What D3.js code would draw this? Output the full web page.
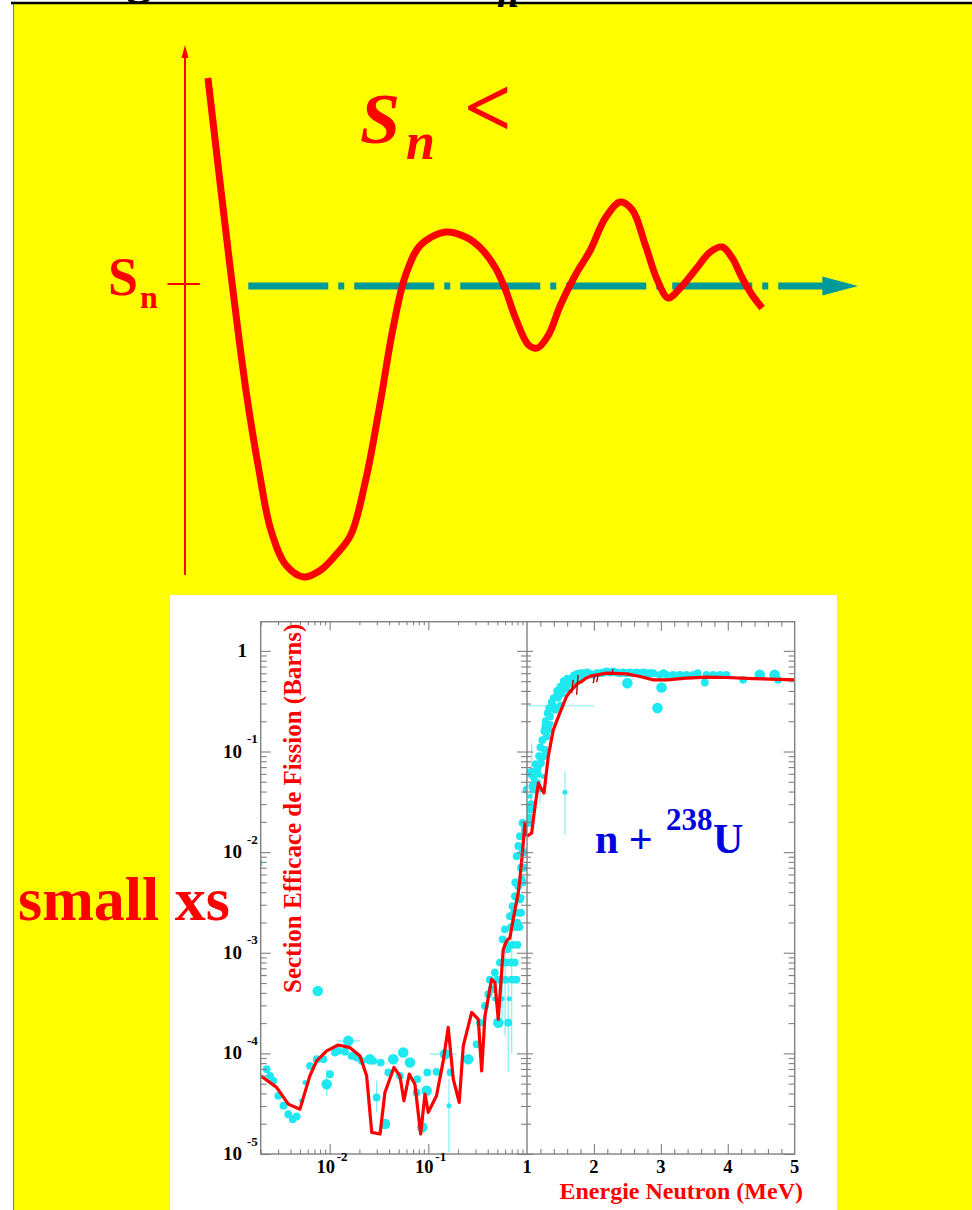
<!DOCTYPE html>
<html>
<head>
<meta charset="utf-8">
<script src="https://cdn.jsdelivr.net/npm/d3@7/dist/d3.min.js"></script>
<style>
html,body{margin:0;padding:0;background:#fff;}
svg{display:block;}
text{font-family:"Liberation Serif","Times New Roman",serif;font-weight:bold;}
</style>
</head>
<body>
<svg id="chart" width="972" height="1210"></svg>
<script>
// ================= DATA =================
// Schematic potential (top drawing): distance r (arb. units) and energy V (arb. units, Sn level = 0)
const potR = [0.341,0.534,0.712,0.905,1.098,1.276,1.499,1.766,2.018,2.240,2.463,2.685,2.908,3.086,3.279,3.501,3.872,4.169,4.392,4.614,4.763,4.911,5.104,5.237,5.401,5.579,5.801,6.024,6.246,6.469,6.647,6.840,7.018,7.181,7.359,7.582,7.804,7.982,8.131,8.279,8.427,8.576];
const potV = [4.14,1.9,-0.1,-2.1,-3.7,-4.9,-5.6,-5.84,-5.7,-5.4,-5.0,-3.9,-2.3,-0.9,0.2,0.8,1.06,0.96,0.74,0.34,-0.1,-0.66,-1.2,-1.26,-1.0,-0.4,0.2,0.7,1.34,1.66,1.5,0.8,0.1,-0.26,-0.06,0.3,0.66,0.76,0.54,0.14,-0.2,-0.46];
const snLevel = 0;

// Axis tick labels of the cross-section plot
const yTickValues = [1e-5,1e-4,1e-3,1e-2,1e-1,1];
const yTickBase   = ["10","10","10","10","10","1"];
const yTickExp    = ["-5","-4","-3","-2","-1",""];
const xLogTickValues = [0.01,0.1];
const xLogTickBase   = ["10","10"];
const xLogTickExp    = ["-2","-1"];
const xLinTickValues = [1,2,3,4,5];
const xLinTickLabels = ["1","2","3","4","5"];

// Evaluated fission cross section (red line), E in MeV, sigma in barns
const evalLowE  = [0.002,0.0029,0.00381,0.005,0.0063,0.00738,0.00933,0.0122,0.0161,0.0203,0.0237,0.0267,0.0324,0.0363,0.0448,0.0515,0.0566,0.0641,0.0731,0.0836,0.0925,0.0998,0.121,0.1416,0.159,0.179,0.2056,0.226,0.275,0.321,0.347,0.375,0.438,0.473,0.511,0.553,0.574,0.621,0.671,0.724,0.815,0.847,0.9,0.953,1.0];
const evalLowXS = [5.98e-5,4.59e-5,3.13e-5,2.79e-5,5.98e-5,8.43e-5,1.06e-4,1.21e-4,1.14e-4,9.44e-5,5.98e-5,1.64e-5,1.58e-5,4.09e-5,7.24e-5,5.98e-5,3.38e-5,6.22e-5,4.94e-5,1.58e-5,3.94e-5,2.59e-5,3.79e-5,8.43e-5,1.81e-4,5.55e-5,3.26e-5,1.19e-4,2.55e-4,2.18e-4,6.7e-5,2.36e-4,5.45e-4,5.05e-4,2.18e-4,6.34e-4,1.08e-3,1.31e-3,1.41e-3,2.14e-3,3.94e-3,5.35e-3,1.0e-2,1.95e-2,1.44e-2];
const evalHighE  = [1.0,1.07,1.12,1.17,1.22,1.254,1.318,1.393,1.49,1.59,1.65,1.69,1.75,1.816,1.87,1.966,2.19,2.49,2.69,2.89,3.09,3.38,3.68,3.98,4.38,5.0];
const evalHighXS = [1.44e-2,1.55e-2,2.85e-2,4.87e-2,4.18e-2,3.87e-2,8.95e-2,0.164,0.241,0.352,0.40,0.426,0.47,0.496,0.53,0.565,0.601,0.591,0.556,0.515,0.515,0.536,0.548,0.544,0.531,0.515];
// small resonance spikes on the evaluation
const spikeE  = [1.667,1.741,1.99,2.04,2.264];
const spikeLo = [0.38,0.366,0.478,0.49,0.578];
const spikeHi = [0.515,0.578,0.578,0.57,0.658];

// Experimental data (cyan): energy, cross section, data set (0 small, 1 medium, 2 large markers)
const expE = [0.0023,0.00249,0.00269,0.00302,0.0034,0.00381,0.00422,0.00463,0.0052,0.00562,0.00632,0.00738,0.00863,0.00933,0.01007,0.0113,0.01225,0.0143,0.01545,0.0167,0.01876,0.0211,0.0256,0.0277,0.0329,0.0299,0.0364,0.0393,0.0441,0.0557,0.0651,0.0516,0.0773,0.076,0.0868,0.0961,0.0977,0.121,0.1476,0.1618,0.168,0.254,0.308,0.333,0.00757,0.0019,
  0.375,0.406,0.438,0.512,0.473,0.532,0.566,0.597,0.631,0.645,0.671,0.714,0.755,0.796,0.815,0.847,0.881,0.785,0.817,0.848,0.901,0.952,0.99,
  0.42,0.5,0.6,0.7,0.78,0.6,0.68,0.75,0.63,0.72,0.8,0.69,0.77,0.84,0.74,0.82,0.87,0.8,0.86,0.76,0.9,0.87,0.93,0.9,0.95,0.47,0.56,0.66,
  1.02,1.04,1.045,1.07,1.095,1.10,1.144,1.15,1.169,1.194,1.21,1.244,1.244,1.269,1.294,1.294,1.32,1.343,1.36,1.393,1.42,1.443,1.47,1.493,1.52,1.542,1.567,1.592,1.642,1.68,1.716,1.766,1.791,1.84,1.891,1.94,1.99,2.04,2.09,2.14,2.189,2.24,2.289,2.338,2.388,2.44,2.488,2.5,2.54,2.587,2.64,2.687,2.74,2.786,2.84,2.886,2.95,2.985,3.01,3.04,3.085,3.184,3.284,3.383,3.483,3.55,3.657,3.682,3.781,3.881,3.98,4.229,4.478,4.70,4.751,1.567,1.5,
  1.03,1.06,1.08,1.12,1.13,1.16,1.18,1.2,1.23,1.26,1.28,1.31,1.33,1.37,1.4,1.45,1.5,1.55,1.6,1.7,1.75,1.8,1.85,1.9,1.62,1.66,1.72,1.78,1.48,1.58];
const expXS = [6.97e-5,5.98e-5,5.34e-5,3.79e-5,3.02e-5,2.49e-5,2.22e-5,2.36e-5,3.38e-5,5.14e-5,7.52e-5,8.75e-5,8.75e-5,4.94e-5,6.22e-5,1.02e-4,1.06e-4,1.04e-4,1.33e-4,9.44e-5,9.1e-5,8.43e-5,8.75e-5,8.43e-5,8.11e-5,3.65e-5,1.99e-5,6.46e-5,8.75e-5,1.02e-4,8.11e-5,5.98e-5,5.55e-5,4.09e-5,1.84e-5,4.25e-5,6.46e-5,6.55e-5,9.82e-5,3.02e-5,6.46e-5,8.75e-5,1.23e-4,2.02e-4,4.17e-4,7.8e-3,
  2.96e-4,3.87e-4,4.34e-4,2.02e-4,6.35e-4,7.98e-4,1.36e-3,1.71e-3,1.08e-3,2.02e-4,2.31e-3,2.9e-3,3.65e-3,1.99e-3,4.59e-3,3.39e-3,5.35e-3,9.12e-3,1.15e-2,1.44e-2,1.95e-2,1.67e-2,4.18e-2,
  5.4e-4,5.4e-4,5.4e-4,5.4e-4,5.4e-4,8e-4,8e-4,8e-4,1.2e-3,1.2e-3,1.2e-3,1.8e-3,1.8e-3,1.8e-3,2.5e-3,2.5e-3,2.5e-3,3.5e-3,3.5e-3,5e-3,5e-3,7e-3,7e-3,1e-2,1e-2,3.5e-4,3.5e-4,3.5e-4,
  0.0195,0.0265,0.0359,0.061,0.0418,0.0566,0.0487,0.066,0.0712,0.0418,0.0769,0.0895,0.0566,0.104,0.141,0.178,0.1645,0.223,0.19,0.281,0.26,0.352,0.33,0.41,0.38,0.443,0.478,0.46,0.516,0.5,0.536,0.556,0.53,0.56,0.578,0.59,0.578,0.60,0.60,0.61,0.624,0.61,0.624,0.61,0.60,0.61,0.60,0.478,0.61,0.60,0.61,0.60,0.61,0.60,0.60,0.60,0.27,0.578,0.433,0.60,0.578,0.578,0.578,0.578,0.578,0.60,0.485,0.578,0.578,0.578,0.578,0.516,0.578,0.578,0.516,0.0393,0.285,
  0.022,0.03,0.045,0.05,0.075,0.06,0.09,0.11,0.13,0.16,0.2,0.24,0.27,0.31,0.34,0.4,0.44,0.5,0.53,0.57,0.59,0.6,0.6,0.61,0.47,0.51,0.5,0.55,0.36,0.42];
const expSet = [1,1,1,1,1,1,1,1,0,0,1,1,1,2,1,1,1,1,2,1,1,1,2,1,1,1,2,1,2,2,2,1,1,1,2,2,1,1,2,0,1,2,1,1,2,1,
  1,1,1,2,1,1,1,1,1,1,1,1,1,1,1,1,1,1,1,1,1,1,1,
  1,1,1,1,1,1,1,1,1,1,1,1,1,1,1,1,1,1,1,1,1,1,1,1,1,0,0,0,
  1,1,0,2,1,1,1,1,1,0,1,1,0,1,1,2,1,1,0,1,1,1,0,1,1,1,1,0,1,1,1,1,1,1,1,1,1,1,1,1,1,1,1,1,1,1,1,2,1,1,1,1,1,1,1,1,2,1,2,1,1,1,1,1,1,1,1,1,1,1,1,1,2,2,1,0,1,
  1,1,1,1,1,1,1,1,1,1,1,1,1,1,1,1,1,1,1,1,1,1,1,1,1,1,1,1,1,1];
// Vertical error bars: energy, low, high
const errVE  = [0.00933,0.0299,0.1618,0.645,0.60,0.70,0.56,0.99,1.07,1.194,1.567];
const errVLo = [3.79e-5,2.63e-5,1.04e-5,6.5e-5,1.5e-4,1.0e-4,2.2e-4,0.02,0.0195,0.0307,0.015];
const errVHi = [6.97e-5,5.34e-5,5.55e-5,5.4e-4,1.0e-3,1.5e-3,8e-4,0.08,0.12,0.1,0.0635];
// Horizontal error bars: cross section, low energy, high energy
const errHXS = [1.33e-4,9.82e-5,0.285];
const errHLo = [0.01178,0.104,1.0];
const errHHi = [0.0203,0.1936,2.0];

// ================= DRAWING =================
const svg = d3.select("#chart");
const RED = "#ff0000", CYAN = "#1fe8f0", CYAN_ERR = "#7ff0f4", GRAY = "#808080";

// page background
svg.append("rect").attr("x",13).attr("y",4).attr("width",959).attr("height",1206).attr("fill","#ffff00");
svg.append("line").attr("x1",13.5).attr("x2",13.5).attr("y1",4).attr("y2",1210).attr("stroke",GRAY).attr("stroke-width",1.2);
// cut-off title glyphs
svg.append("text").attr("x",126).attr("y",-7).attr("font-size",52).attr("font-weight","normal").attr("fill","#000").text("g");
svg.append("text").attr("x",497).attr("y",7).attr("font-size",40).attr("font-style","italic").attr("fill","#000").text("n");
svg.append("line").attr("x1",11).attr("x2",972).attr("y1",3).attr("y2",3).attr("stroke","#000").attr("stroke-width",2.5);

// ---------- schematic ----------
const rS = d3.scaleLinear().domain([0,10]).range([185,858]);
const vS = d3.scaleLinear().domain([-5.8,4.8]).range([575,45]);
const schem = svg.append("g");
schem.append("line").attr("x1",rS(0)).attr("x2",rS(0)).attr("y1",vS(-5.8)).attr("y2",vS(4.55)).attr("stroke",RED).attr("stroke-width",2);
schem.append("path").attr("d",`M${rS(0)},${vS(4.8)} L${rS(0)-3.5},${vS(4.8)+13} L${rS(0)+3.5},${vS(4.8)+13} Z`).attr("fill",RED);
schem.append("line").attr("x1",rS(-0.26)).attr("x2",rS(0.22)).attr("y1",vS(snLevel)-1).attr("y2",vS(snLevel)-1).attr("stroke",RED).attr("stroke-width",2);
const snT = schem.append("text").attr("x",108).attr("y",295).attr("fill",RED).attr("font-size",54);
snT.append("tspan").text("S");
snT.append("tspan").attr("font-size",32).attr("dy",13).attr("dx",2).text("n");
schem.append("line").attr("x1",rS(0.94)).attr("x2",rS(9.56)).attr("y1",vS(snLevel)+1).attr("y2",vS(snLevel)+1)
  .attr("stroke","#009a9a").attr("stroke-width",7).attr("stroke-dasharray","80,10,6,10");
schem.append("path").attr("d",`M${rS(10)},${vS(snLevel)+1} L${rS(9.47)},${vS(snLevel)+1-9.5} L${rS(9.47)},${vS(snLevel)+1+9.5} Z`).attr("fill","#009a9a");
const potLine = d3.line().x((d,i)=>rS(potR[i])).y((d,i)=>vS(potV[i])).curve(d3.curveCatmullRom.alpha(0.5));
schem.append("path").attr("d",potLine(potR)).attr("fill","none").attr("stroke",RED).attr("stroke-width",7).attr("stroke-linecap","butt").attr("stroke-linejoin","round");
const big = schem.append("text").attr("x",360).attr("y",143).attr("fill",RED).attr("font-size",72).attr("font-style","italic");
big.append("tspan").text("S");
big.append("tspan").attr("font-size",52).attr("dy",16).attr("dx",6).text("n");
schem.append("text").attr("x",464).attr("y",136).attr("fill",RED).attr("font-size",84).text("<");

// ---------- cross-section plot ----------
svg.append("rect").attr("x",170).attr("y",595).attr("width",667).attr("height",615).attr("fill","#fff");
const pTop = 621.7, pBot = 1154, xL = 260.7, xM = 527, xR = 794.7;
const y = d3.scaleLog().domain([1e-5,1.95]).range([pBot,pTop]);
const xLog = d3.scaleLog().domain([0.002,1]).range([xL,xM]);
const xLin = d3.scaleLinear().domain([1,5]).range([xM,xR]);
const rSet = d3.scaleOrdinal().domain([0,1,2]).range([2.5,3.9,5.3]);

const defs = svg.append("defs");
defs.append("clipPath").attr("id","clipL").append("rect").attr("x",xL).attr("y",pTop).attr("width",xM-xL).attr("height",pBot-pTop);
defs.append("clipPath").attr("id","clipR").append("rect").attr("x",xM).attr("y",pTop).attr("width",xR-xM).attr("height",pBot-pTop);

const idx = expE.map((d,i)=>i);
function panel(x, clip, inPanel, evE, evXS) {
  const g = svg.append("g").attr("clip-path",`url(#${clip})`);
  errVE.forEach((e,i)=>{ if(!inPanel(e)) return;
    g.append("line").attr("x1",x(e)).attr("x2",x(e)).attr("y1",y(errVLo[i])).attr("y2",y(errVHi[i])).attr("stroke",CYAN_ERR).attr("stroke-width",1.2); });
  errHXS.forEach((s,i)=>{
    const d0 = x.domain()[0], d1 = x.domain()[1];
    if (errHHi[i] < d0 || errHLo[i] > d1) return;
    g.append("line").attr("x1",x(Math.max(errHLo[i],d0))).attr("x2",x(Math.min(errHHi[i],d1)))
     .attr("y1",y(s)).attr("y2",y(s)).attr("stroke",CYAN_ERR).attr("stroke-width",1.2); });
  g.selectAll("circle.p").data(idx.filter(i=>inPanel(expE[i]))).join("circle")
    .attr("cx",i=>x(expE[i])).attr("cy",i=>y(expXS[i])).attr("r",i=>rSet(expSet[i])).attr("fill",CYAN);
  const line = d3.line().x((d,i)=>x(evE[i])).y((d,i)=>y(evXS[i]));
  g.append("path").attr("d",line(evE)).attr("fill","none").attr("stroke",RED).attr("stroke-width",3.2).attr("stroke-linejoin","round");
  return g;
}
panel(xLog,"clipL",e=>e<=1.0,evalLowE,evalLowXS);
const gR = panel(xLin,"clipR",e=>e>=1.0,evalHighE,evalHighXS);
spikeE.forEach((e,i)=>{
  gR.append("line").attr("x1",xLin(e)).attr("x2",xLin(e)+1.5).attr("y1",y(spikeLo[i])).attr("y2",y(spikeHi[i])).attr("stroke","#b00000").attr("stroke-width",1.4);
});

svg.append("rect").attr("x",xL).attr("y",pTop).attr("width",xR-xL).attr("height",pBot-pTop).attr("fill","none").attr("stroke",GRAY).attr("stroke-width",1.4);
svg.append("line").attr("x1",xM).attr("x2",xM).attr("y1",pTop).attr("y2",pBot).attr("stroke",GRAY).attr("stroke-width",1.4);

function isMajorLog(v){ const l=Math.log10(v); return Math.abs(l-Math.round(l))<1e-6; }
const yAll = y.ticks();
const yMaj = yAll.filter(isMajorLog), yMin = yAll.filter(v=>!isMajorLog(v));
function addAxis(gen, tx, ty){
  const g = svg.append("g").attr("transform",`translate(${tx},${ty})`).call(gen);
  g.select(".domain").remove();
  g.selectAll("line").attr("stroke",GRAY).attr("stroke-width",1.1);
  g.selectAll("text").remove();
}
addAxis(d3.axisLeft(y).tickValues(yMaj).tickSize(-10).tickFormat(""), xL, 0);
addAxis(d3.axisLeft(y).tickValues(yMin).tickSize(-6).tickFormat(""), xL, 0);
addAxis(d3.axisRight(y).tickValues(yMaj).tickSize(-10).tickFormat(""), xM, 0);
addAxis(d3.axisRight(y).tickValues(yMin).tickSize(-6).tickFormat(""), xM, 0);
addAxis(d3.axisLeft(y).tickValues(yMaj).tickSize(-6).tickFormat(""), xM, 0);
addAxis(d3.axisLeft(y).tickValues(yMin).tickSize(-4).tickFormat(""), xM, 0);
addAxis(d3.axisRight(y).tickValues(yMaj).tickSize(-11).tickFormat(""), xR, 0);
addAxis(d3.axisRight(y).tickValues(yMin).tickSize(-6).tickFormat(""), xR, 0);
const xlAll = xLog.ticks().filter(v=>v<1);
const xlMaj = xlAll.filter(isMajorLog), xlMin = xlAll.filter(v=>!isMajorLog(v));
addAxis(d3.axisBottom(xLog).tickValues(xlMaj).tickSize(-10).tickFormat(""), 0, pBot);
addAxis(d3.axisBottom(xLog).tickValues(xlMin).tickSize(-4.5).tickFormat(""), 0, pBot);
addAxis(d3.axisTop(xLog).tickValues(xlMaj).tickSize(-8.5).tickFormat(""), 0, pTop);
addAxis(d3.axisTop(xLog).tickValues(xlMin).tickSize(-3.5).tickFormat(""), 0, pTop);
const xnAll = xLin.ticks(20).filter(v=>v>1 && v<5);
const xnMaj = xnAll.filter(v=>Math.abs(v-Math.round(v))<1e-6), xnMin = xnAll.filter(v=>Math.abs(v-Math.round(v))>=1e-6);
addAxis(d3.axisBottom(xLin).tickValues(xnMaj).tickSize(-10).tickFormat(""), 0, pBot);
addAxis(d3.axisBottom(xLin).tickValues(xnMin).tickSize(-5).tickFormat(""), 0, pBot);
addAxis(d3.axisTop(xLin).tickValues(xnMaj).tickSize(-9).tickFormat(""), 0, pTop);
addAxis(d3.axisTop(xLin).tickValues(xnMin).tickSize(-5).tickFormat(""), 0, pTop);

const lab = svg.append("g").attr("fill","#000");
yTickValues.forEach((v,i)=>{
  if (yTickExp[i]) {
    lab.append("text").attr("x",242).attr("y",y(v)+6).attr("text-anchor","end").attr("font-size",19).text(yTickBase[i]);
    lab.append("text").attr("x",247).attr("y",y(v)-8.5).attr("font-size",13).text(yTickExp[i]);
  } else {
    lab.append("text").attr("x",247).attr("y",y(v)+6).attr("text-anchor","end").attr("font-size",19).text(yTickBase[i]);
  }
});
xLogTickValues.forEach((v,i)=>{
  lab.append("text").attr("x",xLog(v)-4).attr("y",1172.5).attr("text-anchor","middle").attr("font-size",18.5).text(xLogTickBase[i]);
  lab.append("text").attr("x",xLog(v)+7).attr("y",1161).attr("font-size",13).text(xLogTickExp[i]);
});
xLinTickValues.forEach((v,i)=>{
  lab.append("text").attr("x",xLin(v)).attr("y",1172.5).attr("text-anchor","middle").attr("font-size",18.5).text(xLinTickLabels[i]);
});

svg.append("text").attr("x",803).attr("y",1198.5).attr("text-anchor","end").attr("fill",RED).attr("font-size",24).text("Energie Neutron (MeV)");
svg.append("text").attr("transform","translate(301,993) rotate(-90)").attr("fill",RED).attr("font-size",25).text("Section Efficace de Fission (Barns)");

const BLUE = "#0000e0";
svg.append("text").attr("x",595).attr("y",853).attr("fill",BLUE).attr("font-size",42).text("n +");
svg.append("text").attr("x",666).attr("y",830).attr("fill",BLUE).attr("font-size",31).text("238");
svg.append("text").attr("x",713).attr("y",853).attr("fill",BLUE).attr("font-size",42).text("U");

// "small xs" (drawn over the white panel, as in the original)
svg.append("text").attr("x",18).attr("y",920).attr("fill",RED).attr("font-size",62).text("small xs");
</script>
</body>
</html>
